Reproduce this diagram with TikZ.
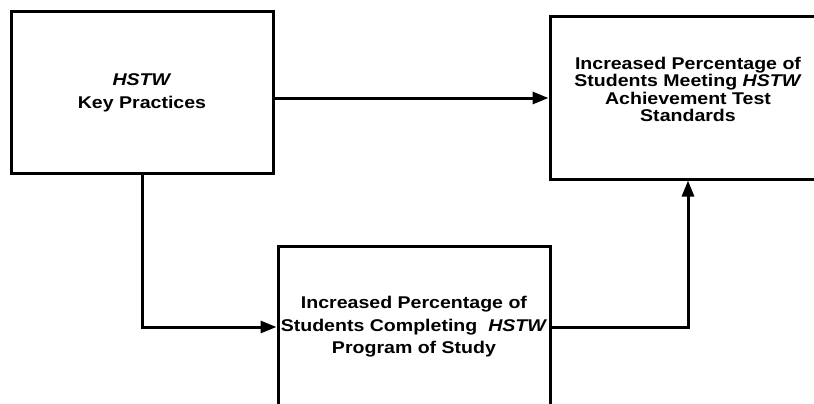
\documentclass[tikz,border=0pt]{standalone}
\usepackage{fontspec}
\setmainfont{Liberation Sans}[FakeStretch=1.15]
\usetikzlibrary{arrows.meta}

\begin{document}
\begin{tikzpicture}[x=1pt,y=-1pt,
			box/.style={draw,rectangle,line width=3pt,inner sep=0pt,minimum height=162pt},
			txt/.style={align=center,inner sep=0pt,font=\fontsize{17}{17.5}\selectfont\bfseries},
			conn/.style={line width=3pt,-{Triangle[length=16pt,width=12pt]}}
		]
		\useasboundingbox (0,0) rectangle (814,404);
		\node (key) [box,minimum width=262pt,minimum height=161pt] at (142,92.5) {};
		\node (test) [box,minimum width=276pt] at (688,98) {};
		\node (comp) [box,minimum width=272pt] at (414,327) {};
		\node (keyTxt) [txt,font=\fontsize{17}{23}\selectfont\bfseries] at (key.center)
		{\textit{HSTW}\\Key Practices};
		\node (testTxt) [txt] at ([yshift=8.5pt]test.center)
		{Increased Percentage of\\Students Meeting \textit{HSTW}\\Achievement Test\\Standards};
		\node (compTxt) [txt,font=\fontsize{17}{22.5}\selectfont\bfseries] at (comp.center)
		{Increased Percentage of\\Students Completing \ \textit{HSTW}\\Program of Study};
		\draw[conn] (test.west -| key.east) -- (test.west);
		\draw[conn] (key.south) |- (comp.west);
		\draw[conn] (comp.east) -| (test.south);
	\end{tikzpicture}
\end{document}
